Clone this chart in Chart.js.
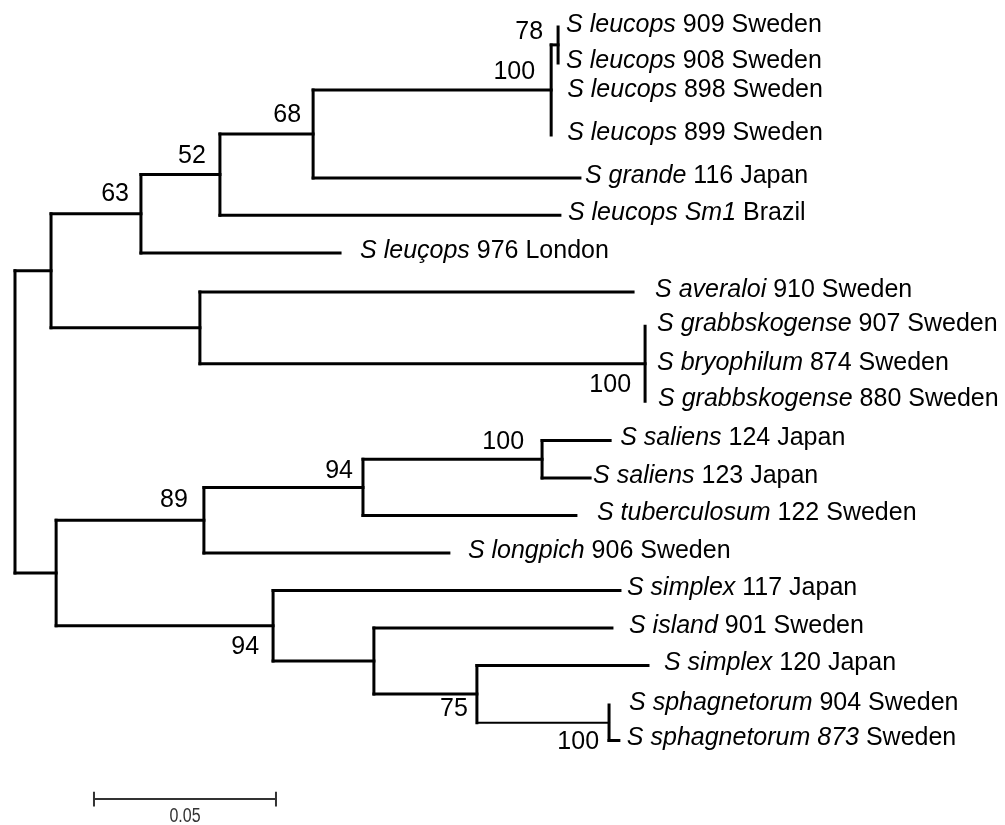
<!DOCTYPE html>
<html>
<head>
<meta charset="utf-8">
<script src="https://cdn.jsdelivr.net/npm/chart.js@4.4.0/dist/chart.umd.min.js"></script>
<style>
  html, body { margin: 0; padding: 0; background: #fff; }
  #wrap { width: 1005px; height: 825px; position: relative; }
</style>
</head>
<body>
<div id="wrap"><canvas id="tree"></canvas></div>
<script>
// internal nodes: id, parent, distance from root (substitutions per site)
const nodeIds    = ['root', 'A', 'B', 'C', 'D', 'E', 'F', 'G', 'H', 'I', 'J', 'K', 'L', 'M', 'N', 'O', 'P'];
const nodeParent = [null, 'root', 'A', 'B', 'C', 'D', 'E', 'A', 'G', 'root', 'I', 'J', 'K', 'I', 'M', 'N', 'O'];
const nodeDepth  = [0, 0.0099, 0.0346, 0.0563, 0.0819, 0.1473, 0.1492, 0.0508, 0.1731,
                    0.0113, 0.0519, 0.0956, 0.1448, 0.0709, 0.0986, 0.1269, 0.1632];
// bootstrap support per node
const bootstrap  = [null, null, 63, 52, 68, 100, 78, null, 100, null, 89, 94, 100, 94, null, 75, 100];

// leaves (taxa)
const leafItalic = ['S leucops', 'S leucops', 'S leucops', 'S leucops', 'S grande', 'S leucops Sm1',
                    'S leuçops', 'S averaloi', 'S grabbskogense', 'S bryophilum', 'S grabbskogense',
                    'S saliens', 'S saliens', 'S tuberculosum', 'S longpich', 'S simplex', 'S island',
                    'S simplex', 'S sphagnetorum', 'S sphagnetorum 873'];
const leafRest   = ['909 Sweden', '908 Sweden', '898 Sweden', '899 Sweden', '116 Japan', 'Brazil',
                    '976 London', '910 Sweden', '907 Sweden', '874 Sweden', '880 Sweden',
                    '124 Japan', '123 Japan', '122 Sweden', '906 Sweden', '117 Japan', '901 Sweden',
                    '120 Japan', '904 Sweden', 'Sweden'];
const leafParent = ['F', 'F', 'E', 'E', 'D', 'C', 'B', 'G', 'H', 'H', 'H',
                    'L', 'L', 'K', 'J', 'M', 'N', 'O', 'P', 'P'];
const leafDepth  = [0.1492, 0.1492, 0.1473, 0.1473, 0.1552, 0.1497, 0.0893, 0.1698, 0.1731, 0.1731, 0.1731,
                    0.1635, 0.1580, 0.1541, 0.1192, 0.1662, 0.1640, 0.1739, 0.1632, 0.1659];
const leafRow    = [0.97, 1.93, 2.71, 3.85, 5.0, 5.99, 7.0, 8.04, 8.95, 10.0, 10.95,
                    12.0, 13.0, 14.0, 15.0, 16.0, 17.0, 18.0, 19.05, 20.0];

// scale bar
const scaleBarLength = 0.05;
const scaleBarLabel = '0.05';

// layout / styling (pixels)
const labelGap = [8, 8, 16, 16, 5, 8, 20, 22, 12, 12, 13, 10, 3, 21, 19, 7, 17, 16, 20, 8];
const bootDx = [0, 0, -12, -14, -12, -16, -15, 0, -14, 0, -16, -10, -18, -14, 0, -9, -10];
const bootDy = [0, 0, -20, -18, -19, -18, -13, 0, 21, 0, -20, -16, -17, 21, 0, 15, 19];
const thinBranches = ['P'];
const scaleBarStart = 0.0217;
const scaleBarRow = 21.56;
const FONT = '"Liberation Sans", Arial, Helvetica, sans-serif';

// build tree
const children = {};
nodeIds.forEach(id => children[id] = []);
nodeIds.forEach((id, i) => { if (nodeParent[i]) children[nodeParent[i]].push({ kind: 'node', id: id }); });
leafParent.forEach((p, i) => children[p].push({ kind: 'leaf', i: i }));

const depthOf = {};
nodeIds.forEach((id, i) => depthOf[id] = nodeDepth[i]);

const rowOf = {};
function childRows(id) {
  return children[id].map(c => c.kind === 'leaf' ? leafRow[c.i] : nodeRow(c.id));
}
function nodeRow(id) {
  if (rowOf[id] === undefined) {
    const ys = childRows(id);
    rowOf[id] = (Math.min(...ys) + Math.max(...ys)) / 2;
  }
  return rowOf[id];
}
nodeRow('root');

function seg(x1, y1, x2, y2, w, color) {
  return {
    data: [{ x: x1, y: y1 }, { x: x2, y: y2 }],
    showLine: true,
    borderColor: color || '#000',
    borderWidth: w || 3,
    borderCapStyle: 'square',
    pointRadius: 0,
    fill: false
  };
}

const datasets = [];
// verticals at internal nodes
nodeIds.forEach(id => {
  const ys = childRows(id);
  datasets.push(seg(depthOf[id], Math.min(...ys), depthOf[id], Math.max(...ys)));
});
// horizontals to internal nodes
nodeIds.forEach((id, i) => {
  const p = nodeParent[i];
  if (!p) return;
  datasets.push(seg(depthOf[p], rowOf[id], depthOf[id], rowOf[id], thinBranches.includes(id) ? 2 : 3));
});
// horizontals to leaves
leafParent.forEach((p, i) => {
  if (leafDepth[i] - depthOf[p] > 0.0005) {
    datasets.push(seg(depthOf[p], leafRow[i], leafDepth[i], leafRow[i]));
  }
});
// scale bar
datasets.push(seg(scaleBarStart, scaleBarRow, scaleBarStart + scaleBarLength, scaleBarRow, 2, '#333'));
datasets.push(seg(scaleBarStart, scaleBarRow - 0.17, scaleBarStart, scaleBarRow + 0.17, 2, '#333'));
datasets.push(seg(scaleBarStart + scaleBarLength, scaleBarRow - 0.17, scaleBarStart + scaleBarLength, scaleBarRow + 0.17, 2, '#333'));

const labelsPlugin = {
  id: 'treeLabels',
  afterDatasetsDraw(chart) {
    const ctx = chart.ctx;
    const xs = chart.scales.x, ys = chart.scales.y;
    ctx.save();
    ctx.fillStyle = '#000';
    ctx.textBaseline = 'middle';

    // taxon names
    leafItalic.forEach((name, i) => {
      let x = xs.getPixelForValue(leafDepth[i]) + labelGap[i];
      const y = ys.getPixelForValue(leafRow[i]) - 2;
      ctx.textAlign = 'left';
      ctx.font = 'italic 25px ' + FONT;
      ctx.fillText(name, x, y);
      x += ctx.measureText(name + ' ').width;
      ctx.font = '25px ' + FONT;
      ctx.fillText(leafRest[i], x, y);
    });

    // bootstrap values
    ctx.font = '25px ' + FONT;
    ctx.textAlign = 'right';
    nodeIds.forEach((id, i) => {
      if (bootstrap[i] == null) return;
      const x = xs.getPixelForValue(depthOf[id]) + bootDx[i];
      ctx.fillText(String(bootstrap[i]), x, ys.getPixelForValue(rowOf[id]) + bootDy[i]);
    });

    // scale bar label (narrow face)
    const cx = xs.getPixelForValue(scaleBarStart + scaleBarLength / 2);
    const cy = ys.getPixelForValue(scaleBarRow) + 17;
    ctx.translate(cx, cy);
    ctx.scale(0.8, 1);
    ctx.font = '20px ' + FONT;
    ctx.fillStyle = '#333';
    ctx.textAlign = 'center';
    ctx.fillText(scaleBarLabel, 0, 0);
    ctx.restore();
  }
};

new Chart(document.getElementById('tree'), {
  type: 'scatter',
  data: { datasets: datasets },
  options: {
    responsive: true,
    maintainAspectRatio: false,
    animation: false,
    layout: { padding: 0 },
    plugins: { legend: { display: false }, tooltip: { enabled: false } },
    scales: {
      x: { type: 'linear', display: false, min: -0.00412, max: 0.27198 },
      y: { type: 'linear', display: false, reverse: true, min: 0.2533, max: 22.2533 }
    }
  },
  plugins: [labelsPlugin]
});
</script>
</body>
</html>
